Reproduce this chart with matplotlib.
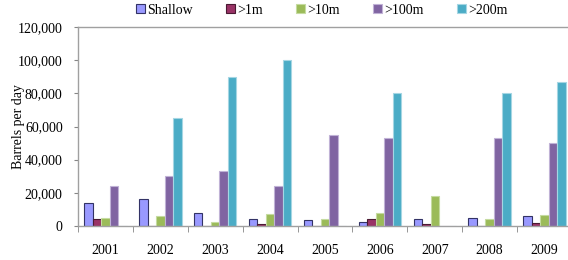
import numpy as np
import matplotlib
matplotlib.use("Agg")
import matplotlib.pyplot as plt

years = ['2001', '2002', '2003', '2004', '2005', '2006', '2007', '2008', '2009']
series = ['Shallow', '>1m', '>10m', '>100m', '>200m']

shallow = [14000, 16500, 8000, 4500, 3500, 2500, 4000, 5000, 5800]
m1 = [4500, 0, 0, 1500, 0, 4000, 1500, 0, 2000]
m10 = [5000, 6000, 2500, 7500, 4000, 8000, 18000, 4000, 6500]
m100 = [24000, 30000, 33000, 24000, 55000, 53000, 0, 53000, 50000]
m200 = [0, 65000, 90000, 100000, 0, 80000, 0, 80000, 87000]

values = [shallow, m1, m10, m100, m200]
colors = ['#9999FF', '#993366', '#9BBB59', '#8064A2', '#4BACC6']
edges = ['#333366', '#4a1a33', '#c5dba0', '#c0b2d6', '#a5d6e3']

plt.rcParams['font.family'] = ['Liberation Serif']
plt.rcParams['font.size'] = 10

fig = plt.figure(figsize=(5.68, 2.6), dpi=100)
ax = fig.add_axes([78 / 568, 34 / 260, 494 / 568, 199 / 260])

x = np.arange(len(years))
w = 0.155
for i, (name, vals) in enumerate(zip(series, values)):
    ax.bar(x + (i - 2) * w, vals, width=w, color=colors[i], edgecolor=edges[i],
           linewidth=0.8, label=name)

ax.set_xlim(-0.5, len(years) - 0.5)
ax.set_ylim(0, 120000)
ax.set_yticks(np.arange(0, 120001, 20000))
ax.set_yticklabels([f'{v:,}' for v in range(0, 120001, 20000)])
ax.set_xticks(x)
ax.set_xticklabels(years)
ax.set_xticks(np.arange(-0.5, len(years)), minor=True)
ax.tick_params(axis='x', which='major', length=0, pad=13)
ax.tick_params(axis='x', which='minor', length=4, color='#868686', direction='out')
ax.tick_params(axis='y', length=3, color='#868686', pad=8)

for s in ['left', 'bottom', 'top']:
    ax.spines[s].set_color('#a0a0a0')
    ax.spines[s].set_linewidth(1.0)
ax.spines['right'].set_visible(False)

ax.set_ylabel('Barrels per day')
ax.yaxis.set_label_coords(-53 / 494, 0.5)

handles, labels = ax.get_legend_handles_labels()
fig.legend(handles, labels, loc='center', bbox_to_anchor=(322 / 568, 1 - 10 / 260),
           ncol=5, frameon=False, handlelength=0.6, handleheight=0.6,
           handletextpad=0.2, columnspacing=2.4, borderaxespad=0)

fig.savefig('out.png', dpi=100)
